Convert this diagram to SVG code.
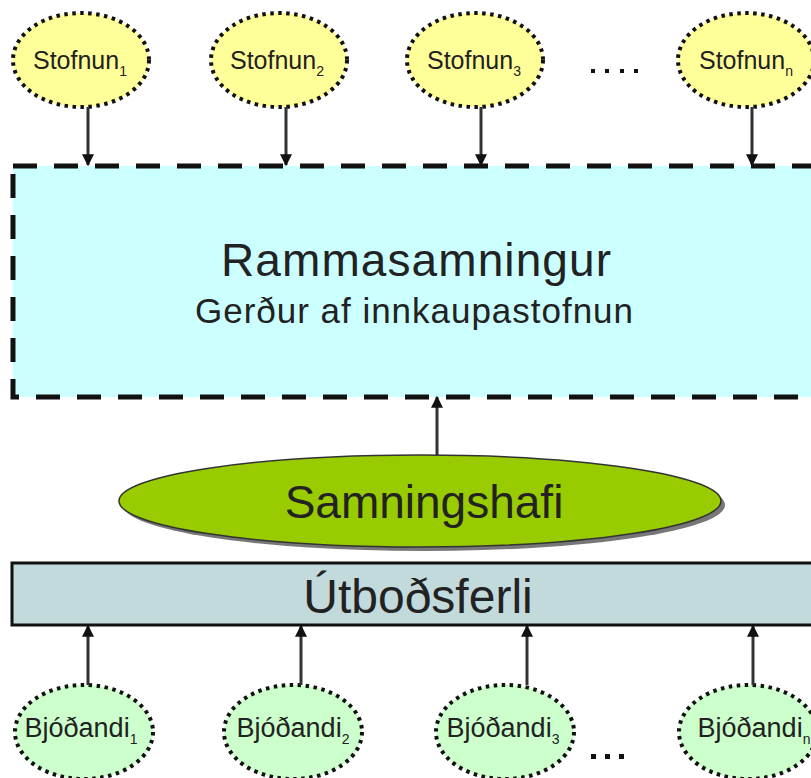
<svg xmlns="http://www.w3.org/2000/svg" width="811" height="778" viewBox="0 0 811 778">
<style>
.t{font-family:"Liberation Sans",Arial,sans-serif;fill:#222}
.st{fill:#ffff99;stroke:#111;stroke-width:4;stroke-dasharray:3.5 4.5}
.bj{fill:#ccffcc;stroke:#111;stroke-width:4;stroke-dasharray:3.5 4.5}
.c{stroke:#333;stroke-width:3;fill:none}
.dot{fill:#111}
</style>
<defs>
<marker id="ah" viewBox="0 0 10 10" refX="9" refY="5" markerWidth="4" markerHeight="4" markerUnits="strokeWidth" orient="auto">
<path d="M0,0 L10,5 L0,10 z" fill="#111"/>
</marker>
</defs>
<rect width="811" height="778" fill="#fff"/>

<g id="rammasamningur">
<rect x="13" y="166" width="810" height="231" fill="#ccffff" stroke="#111" stroke-width="5" stroke-dasharray="24 17"/>
<text class="t" x="416" y="276" font-size="46" text-anchor="middle" textLength="390" lengthAdjust="spacing">Rammasamningur</text>
<text class="t" x="414" y="323" font-size="35" text-anchor="middle" textLength="438" lengthAdjust="spacing">Gerður af innkaupastofnun</text>
</g>

<g id="samningshafi">
<ellipse cx="424" cy="505" rx="301" ry="46" fill="#777"/>
<ellipse cx="420" cy="501" rx="301" ry="46" fill="#99cc00" stroke="#333" stroke-width="1.5"/>
<text class="t" x="424" y="518" font-size="46" text-anchor="middle">Samningshafi</text>
</g>

<g id="utbodsferli">
<rect x="12" y="563" width="810" height="62" fill="#c3dadd" stroke="#111" stroke-width="3"/>
<text class="t" x="418" y="613" font-size="48" text-anchor="middle">Útboðsferli</text>
</g>

<g id="stofnun1">
<ellipse class="st" cx="81" cy="60" rx="68" ry="47"/>
<text class="t" x="80" y="69" font-size="25" text-anchor="middle">Stofnun<tspan font-size="14" dy="7">1</tspan></text>
</g>
<g id="stofnun2">
<ellipse class="st" cx="279" cy="60" rx="68" ry="47"/>
<text class="t" x="277" y="69" font-size="25" text-anchor="middle">Stofnun<tspan font-size="14" dy="7">2</tspan></text>
</g>
<g id="stofnun3">
<ellipse class="st" cx="475" cy="60" rx="68" ry="47"/>
<text class="t" x="474" y="69" font-size="25" text-anchor="middle">Stofnun<tspan font-size="14" dy="7">3</tspan></text>
</g>
<g id="stofnunn">
<ellipse class="st" cx="746" cy="60" rx="68" ry="47"/>
<text class="t" x="746" y="69" font-size="25" text-anchor="middle">Stofnun<tspan font-size="14" dy="7">n</tspan></text>
</g>
<g id="dots-top">
<rect class="dot" x="591" y="69" width="4" height="4"/>
<rect class="dot" x="605" y="69" width="4" height="4"/>
<rect class="dot" x="620" y="69" width="4" height="4"/>
<rect class="dot" x="634" y="69" width="4" height="4"/>
</g>

<g id="bjodandi1">
<ellipse class="bj" cx="84" cy="732" rx="69" ry="47"/>
<text class="t" x="81" y="737" font-size="27" text-anchor="middle">Bjóðandi<tspan font-size="14" dy="7">1</tspan></text>
</g>
<g id="bjodandi2">
<ellipse class="bj" cx="293" cy="732" rx="69" ry="47"/>
<text class="t" x="293" y="737" font-size="27" text-anchor="middle">Bjóðandi<tspan font-size="14" dy="7">2</tspan></text>
</g>
<g id="bjodandi3">
<ellipse class="bj" cx="505" cy="732" rx="69" ry="47"/>
<text class="t" x="503" y="737" font-size="27" text-anchor="middle">Bjóðandi<tspan font-size="14" dy="7">3</tspan></text>
</g>
<g id="bjodandin">
<ellipse class="bj" cx="748" cy="732" rx="69" ry="47"/>
<text class="t" x="754" y="737" font-size="27" text-anchor="middle">Bjóðandi<tspan font-size="14" dy="7">n</tspan></text>
</g>
<g id="dots-bottom">
<rect class="dot" x="591" y="754" width="5" height="5"/>
<rect class="dot" x="605" y="754" width="5" height="5"/>
<rect class="dot" x="619" y="754" width="5" height="5"/>
</g>

<g id="connectors">
<line class="c" x1="88" y1="107" x2="88" y2="165" marker-end="url(#ah)"/>
<line class="c" x1="286" y1="107" x2="286" y2="165" marker-end="url(#ah)"/>
<line class="c" x1="481" y1="107" x2="481" y2="165" marker-end="url(#ah)"/>
<line class="c" x1="752" y1="107" x2="752" y2="165" marker-end="url(#ah)"/>
<line class="c" x1="437" y1="455" x2="437" y2="397" marker-end="url(#ah)"/>
<line class="c" x1="88" y1="685" x2="88" y2="626" marker-end="url(#ah)"/>
<line class="c" x1="301" y1="685" x2="301" y2="626" marker-end="url(#ah)"/>
<line class="c" x1="527" y1="685" x2="527" y2="626" marker-end="url(#ah)"/>
<line class="c" x1="753" y1="685" x2="753" y2="626" marker-end="url(#ah)"/>
</g>
</svg>
